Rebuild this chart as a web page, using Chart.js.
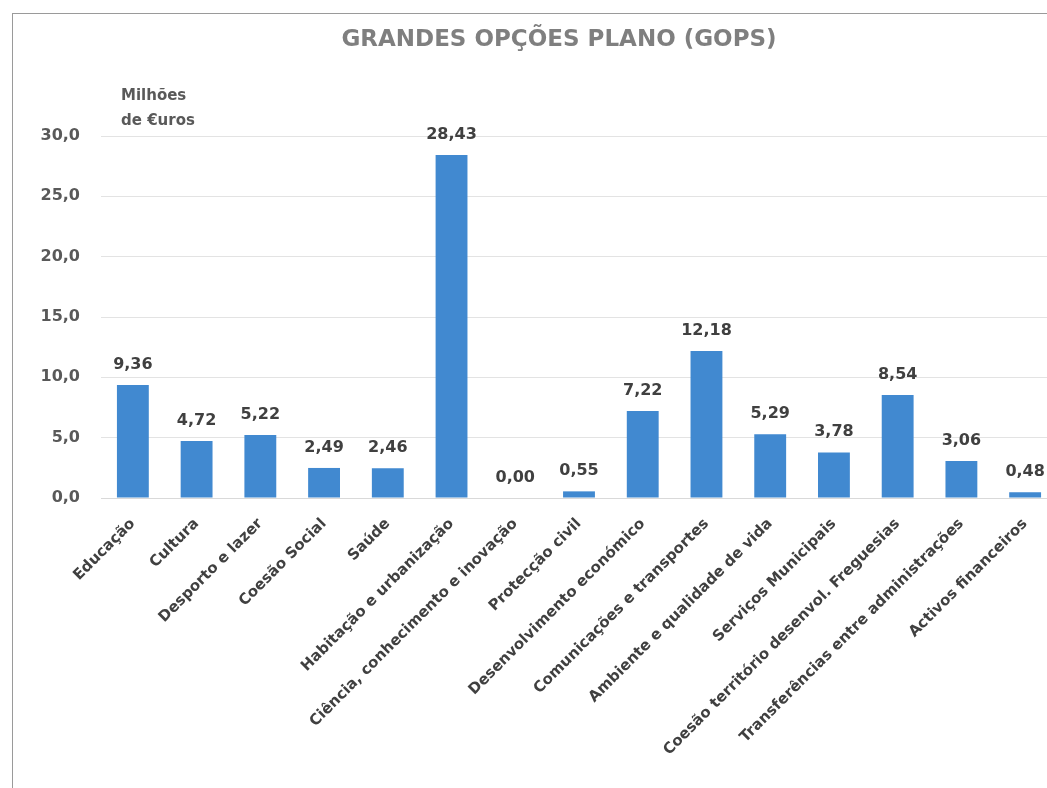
<!DOCTYPE html>
<html>
<head>
<meta charset="utf-8">
<script src="https://cdn.jsdelivr.net/npm/chart.js@4/dist/chart.umd.min.js"></script>
<style>
  html, body { margin: 0; padding: 0; background: #fff; overflow: hidden; }
  #frame { position: absolute; left: 12px; top: 13px; width: 1100px; height: 800px;
           border-left: 1px solid #9a9a9a; border-top: 1px solid #9a9a9a; }
  #wrap { position: absolute; left: 0; top: 0; width: 1060px; height: 788px; }
</style>
</head>
<body>
<div id="frame"></div>
<div id="wrap"><canvas id="gops_chart"></canvas></div>
<script>
var categorias = ["Educação", "Cultura", "Desporto e lazer", "Coesão Social", "Saúde",
    "Habitação e urbanização", "Ciência, conhecimento e inovação", "Protecção civil",
    "Desenvolvimento económico", "Comunicações e transportes", "Ambiente e qualidade de vida",
    "Serviços Municipais", "Coesão território desenvol. Freguesias",
    "Transferências entre administrações", "Activos financeiros"];
var valores = [9.36, 4.72, 5.22, 2.49, 2.46, 28.43, 0.00, 0.55, 7.22, 12.18, 5.29, 3.78, 8.54, 3.06, 0.48];
var marcasY = [0, 5, 10, 15, 20, 25, 30];

var fonte = "'DejaVu Sans', sans-serif";

function virgula(v, casas) {
    return v.toFixed(casas).replace('.', ',');
}

// titulo, unidade e rotulos das barras
var textosExtra = {
    id: 'textosExtra',
    afterDatasetsDraw: function (chart) {
        var ctx = chart.ctx;
        var meta = chart.getDatasetMeta(0);
        ctx.save();
        ctx.font = "bold 23px " + fonte;
        ctx.fillStyle = '#7f7f7f';
        ctx.textAlign = 'center';
        ctx.textBaseline = 'middle';
        ctx.fillText('GRANDES OPÇÕES PLANO (GOPS)', 559, 40);

        ctx.font = "bold 16px " + fonte;
        ctx.fillStyle = '#404040';
        ctx.textBaseline = 'alphabetic';
        meta.data.forEach(function (bar, i) {
            ctx.fillText(virgula(valores[i], 2), bar.x, bar.y - 16);
        });

        ctx.font = "bold 15px " + fonte;
        ctx.fillStyle = '#595959';
        ctx.textAlign = 'left';
        ctx.textBaseline = 'middle';
        ctx.fillText('Milhões', 121, 96);
        ctx.fillText('de €uros', 121, 121);
        ctx.restore();
    }
};

new Chart(document.getElementById("gops_chart").getContext("2d"), {
    type: 'bar',
    data: {
        labels: categorias,
        datasets: [{
            label: 'GOPS',
            data: valores,
            backgroundColor: '#4189d0',
            borderWidth: 0,
            categoryPercentage: 1,
            barPercentage: 0.5
        }]
    },
    options: {
        responsive: true,
        maintainAspectRatio: false,
        animation: false,
        layout: { padding: { left: 0, right: 3, top: 136, bottom: 0 } },
        plugins: {
            legend: { display: false },
            tooltip: { enabled: false },
            title: { display: false }
        },
        scales: {
            x: {
                grid: { display: false, drawTicks: false },
                border: { display: true, color: '#d9d9d9' },
                ticks: {
                    autoSkip: false,
                    minRotation: 45,
                    maxRotation: 45,
                    padding: 17,
                    color: '#404040',
                    font: { family: fonte, size: 15, weight: 'bold' }
                },
                afterFit: function (s) { s.height = 290; }
            },
            y: {
                min: 0,
                max: 30,
                afterBuildTicks: function (s) {
                    s.ticks = marcasY.map(function (v) { return { value: v }; });
                },
                grid: { color: '#e3e3e3', drawTicks: false },
                border: { display: false },
                ticks: {
                    padding: 21,
                    color: '#595959',
                    font: { family: fonte, size: 16, weight: 'bold' },
                    callback: function (v) { return virgula(v, 1); }
                },
                afterFit: function (s) { s.width = 101; }
            }
        }
    },
    plugins: [textosExtra]
});
</script>
</body>
</html>
